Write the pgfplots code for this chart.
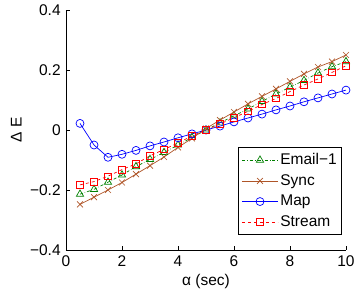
\documentclass[border=0pt]{standalone}
\usepackage{pgfplots}
\pgfplotsset{compat=1.18}
\usepackage{fontspec}
\setmainfont{Liberation Sans}
\definecolor{cgreen}{RGB}{0,128,0}
\definecolor{cbrown}{RGB}{175,85,40}
\definecolor{cblue}{RGB}{0,0,255}
\definecolor{cred}{RGB}{255,0,0}
\begin{document}
\fontsize{15.5}{18}\selectfont
\begin{tikzpicture}
\begin{axis}[
  scale only axis,
  width=280pt, height=240pt,
  xmin=0, xmax=10, ymin=-0.4, ymax=0.4,
  axis lines*=left,
  axis line style={black, line width=0.6pt},
  tick align=inside,
  tick style={black, line width=0.6pt},
  major tick length=4pt,
  xtick={0,2,4,6,8,10},
  xticklabels={0,2,4,6,8,10},
  ytick={-0.4,-0.2,0,0.2,0.4},
  yticklabels={−0.4,−0.2,0,0.2,0.4},
  ticklabel style={font=\fontsize{15.5}{18}\selectfont},
  label style={font=\fontsize{15.5}{18}\selectfont},
  xlabel={α (sec)},
  ylabel={Δ E},
  xlabel style={yshift=3pt},
  ylabel style={yshift=-2pt},
  clip=false,
  legend style={at={(0.986,0.0625)}, anchor=south east, draw=black, line width=0.6pt,
     font=\fontsize{15.5}{18}\selectfont, row sep=3.5pt, inner xsep=3pt, inner ysep=4pt},
  legend cell align=left,
  legend image code/.code={\draw[mark repeat=2,mark phase=2] plot coordinates {(0pt,0pt)(18pt,0pt)(36pt,0pt)};},
]
\addplot[cgreen, dashdotted, line width=0.7pt, mark=triangle, mark size=4.2pt, mark options={solid}] coordinates {
(0.5,-0.214)(1,-0.198)(1.5,-0.174)(2,-0.150)(2.5,-0.122)(3,-0.098)(3.5,-0.075)(4,-0.050)(4.5,-0.025)(5,0.000)
(5.5,0.024)(6,0.047)(6.5,0.070)(7,0.095)(7.5,0.120)(8,0.143)(8.5,0.165)(9,0.190)(9.5,0.211)(10,0.228)};
\addlegendentry{Email−1}
\addplot[cbrown, line width=0.7pt, mark=x, mark size=4.2pt] coordinates {
(0.5,-0.248)(1,-0.224)(1.5,-0.200)(2,-0.175)(2.5,-0.147)(3,-0.119)(3.5,-0.090)(4,-0.058)(4.5,-0.028)(5,0.005)
(5.5,0.033)(6,0.060)(6.5,0.087)(7,0.112)(7.5,0.137)(8,0.162)(8.5,0.187)(9,0.210)(9.5,0.228)(10,0.250)};
\addlegendentry{Sync}
\addplot[cblue, line width=0.7pt, mark=o, mark size=4pt] coordinates {
(0.5,0.022)(1,-0.050)(1.5,-0.091)(2,-0.081)(2.5,-0.068)(3,-0.053)(3.5,-0.040)(4,-0.026)(4.5,-0.013)(5,0.000)
(5.5,0.013)(6,0.027)(6.5,0.040)(7,0.053)(7.5,0.067)(8,0.080)(8.5,0.094)(9,0.107)(9.5,0.120)(10,0.133)};
\addlegendentry{Map}
\addplot[cred, dashed, line width=0.7pt, mark=square, mark size=3.3pt, mark options={solid}] coordinates {
(0.5,-0.183)(1,-0.172)(1.5,-0.154)(2,-0.132)(2.5,-0.113)(3,-0.086)(3.5,-0.065)(4,-0.043)(4.5,-0.020)(5,0.000)
(5.5,0.020)(6,0.041)(6.5,0.062)(7,0.085)(7.5,0.105)(8,0.128)(8.5,0.150)(9,0.170)(9.5,0.192)(10,0.214)};
\addlegendentry{Stream}
\end{axis}
\pgfresetboundingbox
\path[use as bounding box] ([shift={(-66pt,-45pt)}]current axis.south west) rectangle ([shift={(8pt,10pt)}]current axis.north east);
\end{tikzpicture}
\end{document}
